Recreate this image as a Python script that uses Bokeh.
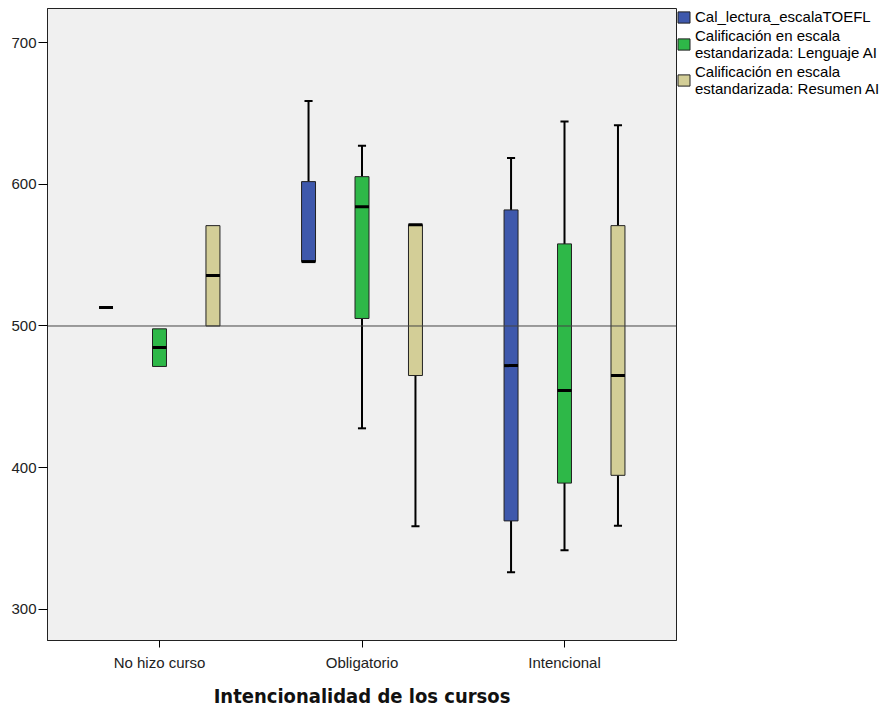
from bokeh.plotting import figure
from bokeh.models import (ColumnDataSource, FactorRange, Range1d, Span, Legend, LegendItem,
                          FixedTicker)
from bokeh.transform import dodge
from bokeh.embed import file_html
from bokeh.resources import INLINE

categories = ["No hizo curso", "Obligatorio", "Intencional"]
series_names = [
    "Cal_lectura_escalaTOEFL",
    "Calificación en escala\nestandarizada: Lenguaje AI",
    "Calificación en escala\nestandarizada: Resumen AI",
]
series_colors = ["#3E58AC", "#2EB848", "#D3CE97"]

# box statistics per category (min whisker, q1, median, q3, max whisker)
toefl_low = [513, 545.5, 326]
toefl_q1 = [513, 545.5, 362.3]
toefl_med = [513, 545.5, 472]
toefl_q3 = [513, 602, 582]
toefl_high = [513, 659, 618.7]

leng_low = [471.4, 427.7, 341.6]
leng_q1 = [471.4, 505.3, 389]
leng_med = [484.8, 584.3, 454.5]
leng_q3 = [498, 605.5, 558]
leng_high = [498, 627.3, 644.5]

res_low = [500, 358.6, 358.8]
res_q1 = [500, 465, 394.5]
res_med = [535.6, 571.6, 465]
res_q3 = [570.9, 571.6, 570.9]
res_high = [570.9, 571.6, 641.9]

reference_value = 500
y_ticks = [300, 400, 500, 600, 700]

series_stats = [
    (toefl_low, toefl_q1, toefl_med, toefl_q3, toefl_high),
    (leng_low, leng_q1, leng_med, leng_q3, leng_high),
    (res_low, res_q1, res_med, res_q3, res_high),
]
offsets = [-0.264, 0.0, 0.264]
box_w = 0.069
cap_w = 0.04

p = figure(
    x_range=FactorRange(*categories, range_padding=0.053, range_padding_units="absolute"),
    y_range=Range1d(277.8, 724.3),
    frame_width=629, frame_height=632,
    output_backend="svg", toolbar_location=None,
    min_border_left=47, min_border_right=215, min_border_top=8, min_border_bottom=66,
)
p.background_fill_color = "#F0F0F0"
p.border_fill_color = "white"
p.outline_line_color = "#222222"
p.outline_line_width = 1
p.xgrid.visible = False
p.ygrid.visible = False

ref = Span(location=reference_value, dimension="width", line_color="#444444", line_width=1)
p.add_layout(ref)

legend_items = []
for (low, q1, med, q3, high), off, color, name in zip(series_stats, offsets, series_colors, series_names):
    src = ColumnDataSource(dict(cat=categories, low=low, q1=q1, med=med, q3=q3, high=high))
    xd = dodge("cat", off, range=p.x_range)
    up_idx = [i for i in range(len(categories)) if high[i] > q3[i]]
    up = ColumnDataSource(dict(cat=[categories[i] for i in up_idx], q3=[q3[i] for i in up_idx],
                               high=[high[i] for i in up_idx]))
    p.segment(x0=xd, y0="q3", x1=xd, y1="high", source=up, line_color="black", line_width=2)
    p.segment(x0=dodge("cat", off - cap_w / 2, range=p.x_range), y0="high",
              x1=dodge("cat", off + cap_w / 2, range=p.x_range), y1="high",
              source=up, line_color="black", line_width=2)
    lo_idx = [i for i in range(len(categories)) if low[i] < q1[i]]
    lo = ColumnDataSource(dict(cat=[categories[i] for i in lo_idx], q1=[q1[i] for i in lo_idx],
                               low=[low[i] for i in lo_idx]))
    p.segment(x0=xd, y0="q1", x1=xd, y1="low", source=lo, line_color="black", line_width=2)
    p.segment(x0=dodge("cat", off - cap_w / 2, range=p.x_range), y0="low",
              x1=dodge("cat", off + cap_w / 2, range=p.x_range), y1="low",
              source=lo, line_color="black", line_width=2)
    r = p.vbar(x=xd, width=box_w, bottom="q1", top="q3", source=src,
               fill_color=color, line_color="#222222", line_width=1)
    p.segment(x0=dodge("cat", off - box_w / 2, range=p.x_range), y0="med",
              x1=dodge("cat", off + box_w / 2, range=p.x_range), y1="med",
              source=src, line_color="black", line_width=3)
    legend_items.append(LegendItem(label=name, renderers=[r]))

legend = Legend(items=legend_items, location="top_left")
legend.border_line_color = None
legend.background_fill_alpha = 0
legend.margin = 0
legend.padding = 4
legend.spacing = 2
legend.glyph_width = 15
legend.glyph_height = 14
legend.label_text_font = "Liberation Sans"
legend.label_text_font_size = "15px"
legend.label_text_color = "#000000"
legend.label_standoff = 4
legend.label_height = 14
p.add_layout(legend, "right")

p.yaxis.ticker = FixedTicker(ticks=y_ticks)
p.yaxis.minor_tick_line_color = None
p.yaxis.major_tick_out = 9
p.yaxis.major_tick_in = 0
p.yaxis.major_label_standoff = 2
p.yaxis.axis_line_color = "#222222"
p.yaxis.major_label_text_font = "Liberation Sans"
p.yaxis.major_label_text_font_size = "15px"
p.yaxis.major_label_text_color = "#222222"

p.xaxis.major_tick_out = 7
p.xaxis.major_tick_in = 0
p.xaxis.major_label_standoff = 6
p.xaxis.axis_line_color = "#222222"
p.xaxis.major_label_text_font = "Liberation Sans"
p.xaxis.major_label_text_font_size = "15px"
p.xaxis.major_label_text_color = "#222222"
p.xaxis.axis_label = "Intencionalidad de los cursos"
p.xaxis.axis_label_text_font = "DejaVu Sans Condensed, Liberation Sans"
p.xaxis.axis_label_text_font_style = "bold"
p.xaxis.axis_label_text_font_size = "20px"
p.xaxis.axis_label_text_color = "#111111"
p.xaxis.axis_label_standoff = 10

open("out.html", "w").write(file_html(p, INLINE))
